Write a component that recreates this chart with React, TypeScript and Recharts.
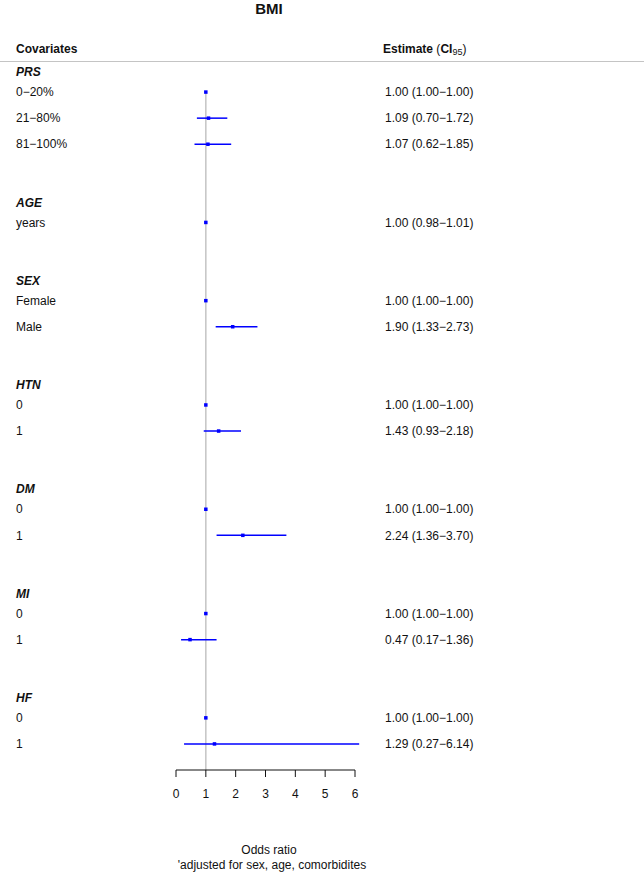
import React from "react"
import {
  ScatterChart,
  Scatter,
  XAxis,
  YAxis,
  ErrorBar,
  ReferenceLine,
} from "recharts"

const groups = ["PRS", "AGE", "SEX", "HTN", "DM", "MI", "HF"]
const levels = [
  ["0−20%", "21−80%", "81−100%"],
  ["years"],
  ["Female", "Male"],
  ["0", "1"],
  ["0", "1"],
  ["0", "1"],
  ["0", "1"],
]
const estimates = [[1.0, 1.09, 1.07], [1.0], [1.0, 1.9], [1.0, 1.43], [1.0, 2.24], [1.0, 0.47], [1.0, 1.29]]
const lowers = [[1.0, 0.7, 0.62], [0.98], [1.0, 1.33], [1.0, 0.93], [1.0, 1.36], [1.0, 0.17], [1.0, 0.27]]
const uppers = [[1.0, 1.72, 1.85], [1.01], [1.0, 2.73], [1.0, 2.18], [1.0, 3.7], [1.0, 1.36], [1.0, 6.14]]
const xTicks = [0, 1, 2, 3, 4, 5, 6]

const FONT = "'Liberation Sans', Arial, Helvetica, sans-serif"
const INK = "#111"

type Row = { row: number; label: string; header: boolean; est?: number; lo?: number; hi?: number }

const rows: Row[] = []
let r = 0
groups.forEach((g, gi) => {
  rows.push({ row: r++, label: g, header: true })
  levels[gi].forEach((lv, li) => {
    rows.push({
      row: r++,
      label: lv,
      header: false,
      est: estimates[gi][li],
      lo: lowers[gi][li],
      hi: uppers[gi][li],
    })
  })
  if (gi < groups.length - 1) r++
})
const lastRow = r // axis sits one row below the last item

const points = rows
  .filter((d) => !d.header)
  .map((d) => ({ row: d.row, est: d.est!, err: [d.est! - d.lo!, d.hi! - d.est!] }))

const rowTicks = rows.map((d) => d.row)
const fmt = (v: number) => v.toFixed(2)

const RowTick = (props: any) => {
  const { y, payload } = props
  const d = rows.find((x) => x.row === payload.value)
  if (!d) return null
  if (d.header) {
    return (
      <text x={16} y={y + 6} dy="0.35em" fontFamily={FONT} fontSize={12} fontWeight="bold" fontStyle="italic" fill={INK}>
        {d.label}
      </text>
    )
  }
  return (
    <g>
      <text x={16} y={y} dy="0.35em" fontFamily={FONT} fontSize={12} fill={INK}>
        {d.label}
      </text>
      <text x={385} y={y} dy="0.35em" fontFamily={FONT} fontSize={12} fill={INK}>
        {`${fmt(d.est!)} (${fmt(d.lo!)}−${fmt(d.hi!)})`}
      </text>
    </g>
  )
}

const Dot = (props: any) => (
  <rect x={props.cx - 1.75} y={props.cy - 1.75} width={3.5} height={3.5} fill="#0000ff" />
)

export default function App() {
  return (
    <div style={{ position: "absolute", left: 0, top: 0, width: 644, height: 874, background: "#fff", fontFamily: FONT, color: INK }}>
      <div style={{ position: "absolute", left: 0, width: 538, top: 0, textAlign: "center", fontWeight: "bold", fontSize: 15, lineHeight: "17px" }}>
        BMI
      </div>
      <div style={{ position: "absolute", left: 16, top: 42, fontWeight: "bold", fontSize: 12, lineHeight: "14px" }}>
        Covariates
      </div>
      <div style={{ position: "absolute", left: 383, top: 42, fontSize: 12, lineHeight: "14px" }}>
        <b>Estimate</b> (<b>CI</b>
        <span style={{ fontSize: 9, verticalAlign: "-2px" }}>95</span>)
      </div>
      <div style={{ position: "absolute", left: 0, top: 61, width: 644, height: 0, borderTop: "1.5px solid #c4c4c4" }} />

      <ScatterChart width={644} height={874} margin={{ top: 66, right: 289, bottom: 74, left: 0 }}>
        <XAxis
          type="number"
          dataKey="est"
          domain={[0, 6]}
          ticks={xTicks}
          allowDataOverflow
          height={30}
          stroke={INK}
          tickSize={7}
          tickMargin={12}
          tick={{ fontSize: 12, fill: INK, fontFamily: FONT }}
        />
        <YAxis
          type="number"
          dataKey="row"
          domain={[0, lastRow]}
          reversed
          width={176}
          ticks={rowTicks}
          interval={0}
          axisLine={false}
          tickLine={false}
          tick={<RowTick />}
        />
        <ReferenceLine
          segment={[{ x: 1, y: 1 }, { x: 1, y: lastRow }]}
          stroke="#c4c4c4"
          strokeWidth={1.5}
        />
        <Scatter data={points} shape={<Dot />} isAnimationActive={false}>
          <ErrorBar dataKey="err" direction="x" width={0} stroke="#0000ff" strokeWidth={1.5} isAnimationActive={false} />
        </Scatter>
      </ScatterChart>

      <div style={{ position: "absolute", left: 0, width: 538, top: 843, textAlign: "center", fontSize: 12, lineHeight: "14px" }}>
        Odds ratio
      </div>
      <div style={{ position: "absolute", left: 0, width: 544, top: 858, textAlign: "center", fontSize: 12, lineHeight: "14px" }}>
        'adjusted for sex, age, comorbidites
      </div>
    </div>
  )
}
